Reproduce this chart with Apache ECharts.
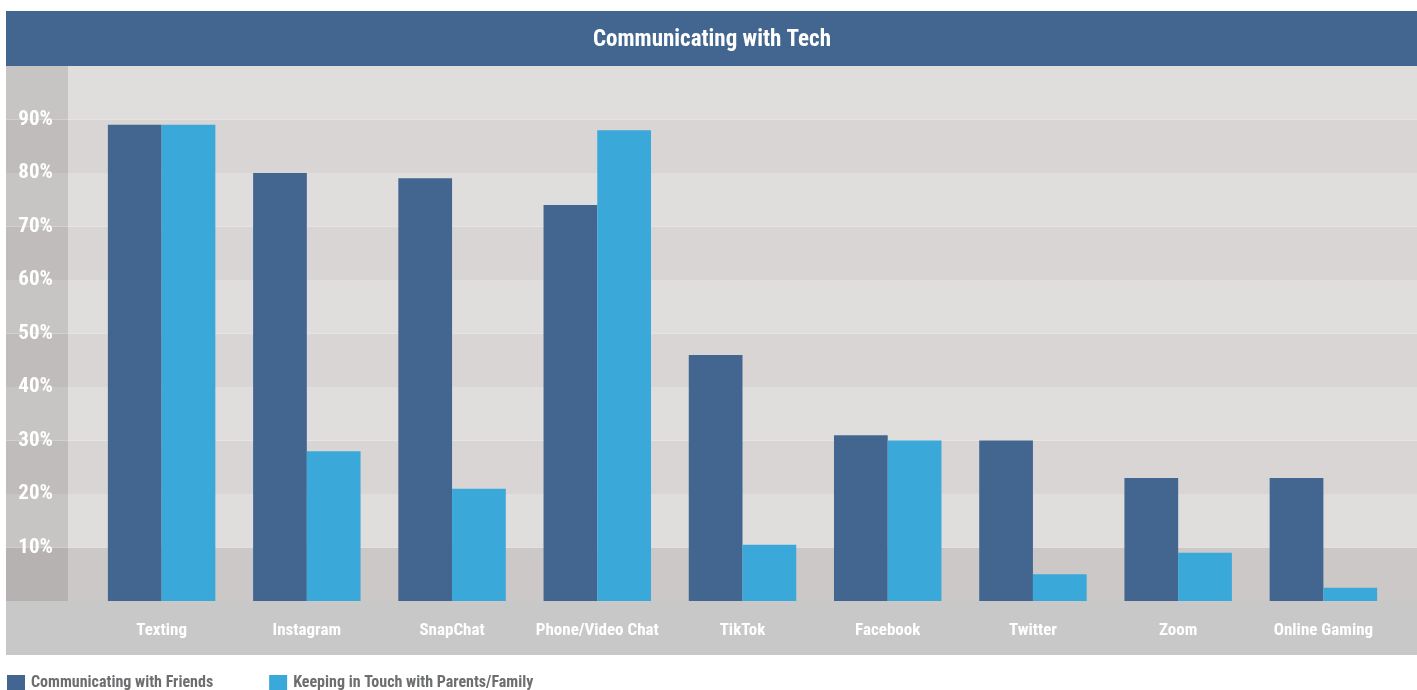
<!DOCTYPE html>
<html>
<head>
<meta charset="utf-8">
<script src="https://cdn.jsdelivr.net/npm/echarts@6/dist/echarts.min.js"></script>
<style>html,body{margin:0;padding:0;background:#fff;}#c{width:1417px;height:690px;}</style>
</head>
<body>
<div id="c"></div>
<script>
const categories = ['Texting','Instagram','SnapChat','Phone/Video Chat','TikTok','Facebook','Twitter','Zoom','Online Gaming'];
const friends = [89, 80, 79, 74, 46, 31, 30, 23, 23];
const family = [89, 28, 21, 88, 10.5, 30, 5, 9, 2.5];
const yTicks = [0,10,20,30,40,50,60,70,80,90,100];
const seriesNames = ['Communicating with Friends','Keeping in Touch with Parents/Family'];
const titleText = 'Communicating with Tech';

const FONT = "'Roboto Condensed','Open Sans Condensed',sans-serif";
const chart = echarts.init(document.getElementById('c'), null, {renderer:'canvas'});
const TOP = 66, BOTTOM = 89;
const stripColors = ['#b6b2b1','#c7c5c4','#c0bcbb','#c7c5c4','#c0bcbb','#c7c5c4','#c0bcbb','#c7c5c4','#c0bcbb','#c7c5c4'];
const plotColors = ['#cbc8c7','#dfdedd','#d8d5d4','#dfdedd','#d8d5d4','#dfdedd','#d8d5d4','#dfdedd','#d8d5d4','#dfdedd'];

chart.setOption({
  backgroundColor:'#ffffff',
  animation:false,
  title:{text:titleText, top:29, left:712, textAlign:'center', padding:0,
    textStyle:{color:'#ffffff', fontFamily:FONT, fontWeight:'bold', fontSize:23}},
  graphic:[
    {type:'rect', z:-10, shape:{x:6,y:11,width:1411,height:55}, style:{fill:'#436690'}},
    {type:'rect', z:-10, shape:{x:6,y:601,width:1411,height:54}, style:{fill:'#c8c8c8'}}
  ],
  legend:{left:7, top:675, padding:0, itemWidth:18, itemHeight:16, itemGap:56, icon:'rect',
    textStyle:{color:'#6d6e70', fontFamily:FONT, fontWeight:'bold', fontSize:16, padding:[0,0,0,1]},
    data:seriesNames},
  grid:[
    {left:6, width:62, top:TOP, bottom:BOTTOM},
    {left:68, right:0, top:TOP, bottom:BOTTOM},
    {left:89, right:21, top:TOP, bottom:BOTTOM}
  ],
  xAxis:[
    {gridIndex:0, type:'value', show:false},
    {gridIndex:1, type:'value', show:false},
    {gridIndex:2, type:'category', data:categories, axisLine:{show:false}, axisTick:{show:false},
      axisLabel:{interval:0, color:'#ffffff', fontFamily:FONT, fontWeight:'bold', fontSize:17, margin:21}}
  ],
  yAxis:[
    {gridIndex:0, type:'value', min:0, max:100, interval:10, position:'right',
      axisLine:{show:false}, axisTick:{show:false}, splitLine:{show:false},
      splitArea:{show:true, areaStyle:{color:stripColors}},
      axisLabel:{inside:true, margin:15, color:'#ffffff', fontFamily:FONT, fontWeight:'bold', fontSize:21,
        formatter:v => (v===0||v===100)?'':v+'%'}},
    {gridIndex:1, type:'value', min:0, max:100, interval:10,
      axisLine:{show:false}, axisTick:{show:false}, splitLine:{show:false}, axisLabel:{show:false},
      splitArea:{show:true, areaStyle:{color:plotColors}}},
    {gridIndex:2, type:'value', min:0, max:100, interval:10, show:false}
  ],
  series:[
    {name:seriesNames[0], type:'bar', xAxisIndex:2, yAxisIndex:2, data:friends, barWidth:'37%', barGap:'0%',
      itemStyle:{color:'#436690'}},
    {name:seriesNames[1], type:'bar', xAxisIndex:2, yAxisIndex:2, data:family, barWidth:'37%', barGap:'0%',
      itemStyle:{color:'#3aa8d8'}}
  ]
});
</script>
</body>
</html>
